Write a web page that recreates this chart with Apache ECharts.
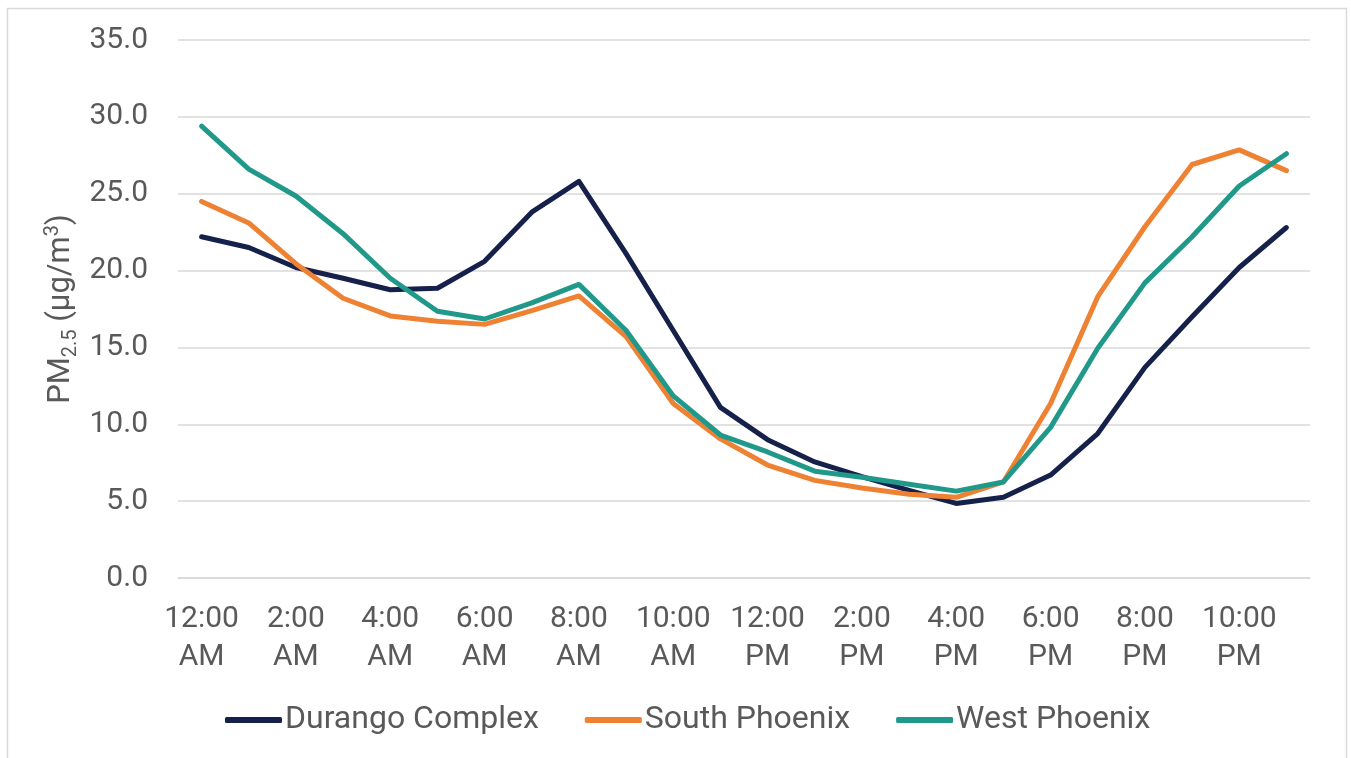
<!DOCTYPE html>
<html>
<head>
<meta charset="utf-8">
<script src="https://cdn.jsdelivr.net/npm/echarts@6/dist/echarts.min.js"></script>
<style>
html,body{margin:0;padding:0;background:#fff;}
#chart{width:1351px;height:758px;}
</style>
</head>
<body>
<div id="chart"></div>
<script>
const categories = ['12:00 AM','1:00 AM','2:00 AM','3:00 AM','4:00 AM','5:00 AM','6:00 AM','7:00 AM','8:00 AM','9:00 AM','10:00 AM','11:00 AM',
  '12:00 PM','1:00 PM','2:00 PM','3:00 PM','4:00 PM','5:00 PM','6:00 PM','7:00 PM','8:00 PM','9:00 PM','10:00 PM','11:00 PM'];
const durango = [22.2,21.5,20.2,19.5,18.75,18.85,20.6,23.8,25.8,21.1,16.1,11.1,9.0,7.55,6.6,5.7,4.85,5.25,6.7,9.4,13.7,17.0,20.2,22.8];
const southPhoenix = [24.5,23.1,20.45,18.2,17.05,16.7,16.5,17.4,18.35,15.7,11.35,9.05,7.35,6.35,5.85,5.45,5.25,6.25,11.35,18.3,22.85,26.9,27.85,26.5];
const westPhoenix = [29.4,26.6,24.85,22.4,19.5,17.35,16.85,17.9,19.1,16.1,11.85,9.3,8.2,6.95,6.55,6.1,5.65,6.25,9.8,14.95,19.2,22.2,25.5,27.6];
const seriesNames = ['Durango Complex','South Phoenix','West Phoenix'];
const yTicks = {min:0, max:35, interval:5};

const chart = echarts.init(document.getElementById('chart'), null, {renderer:'canvas'});
const colors = ['#16214b','#ef8133','#21998a'];
const font = 'Roboto';
const mkSeries = (name, data, color) => ({
  name, type:'line', data, symbol:'none', smooth:false,
  lineStyle:{width:5, color, cap:'round', join:'round'}, itemStyle:{color}
});
chart.setOption({
  animation:false,
  graphic:[{type:'rect', shape:{x:7.5,y:8.5,width:1339,height:800}, style:{fill:'none', stroke:'#d9d9d9', lineWidth:1.5}}],
  grid:{left:178,right:41,top:40,bottom:180},
  legend:{
    data:seriesNames, bottom:17, left:220, itemWidth:57, itemHeight:6, itemGap:46,
    icon:'roundRect',
    textStyle:{fontFamily:font, fontSize:32, color:'#595959', padding:[0,0,0,-2]}
  },
  xAxis:{
    type:'category', data:categories, boundaryGap:true,
    axisTick:{show:false},
    axisLine:{show:true, lineStyle:{color:'#d9d9d9', width:1.5}},
    axisLabel:{
      interval:1, margin:22, fontFamily:font, fontSize:30, color:'#595959', lineHeight:38,
      formatter: v => v.replace(' ', '\n')
    }
  },
  yAxis:{
    type:'value', min:yTicks.min, max:yTicks.max, interval:yTicks.interval,
    axisLine:{show:false}, axisTick:{show:false},
    splitLine:{lineStyle:{color:'#d9d9d9', width:1.5}},
    axisLabel:{margin:30, fontFamily:font, fontSize:30, color:'#595959', formatter:v=>v.toFixed(1)},
    name:'{a|PM}{sub|2.5}{a| (µg/m}{sup|3}{a|)}',
    nameLocation:'middle', nameGap:95, nameRotate:90, nameMoveOverlap:false,
    nameTextStyle:{
      fontFamily:font, color:'#595959',
      rich:{
        a:{fontFamily:font, fontSize:31, color:'#595959', lineHeight:44, verticalAlign:'middle'},
        sub:{fontFamily:font, fontSize:20, color:'#595959', lineHeight:44, verticalAlign:'bottom', padding:[0,0,2,0]},
        sup:{fontFamily:font, fontSize:20, color:'#595959', lineHeight:44, verticalAlign:'top', padding:[4,0,0,0]}
      }
    }
  },
  series:[
    mkSeries(seriesNames[0], durango, colors[0]),
    mkSeries(seriesNames[1], southPhoenix, colors[1]),
    mkSeries(seriesNames[2], westPhoenix, colors[2])
  ]
});
</script>
</body>
</html>
